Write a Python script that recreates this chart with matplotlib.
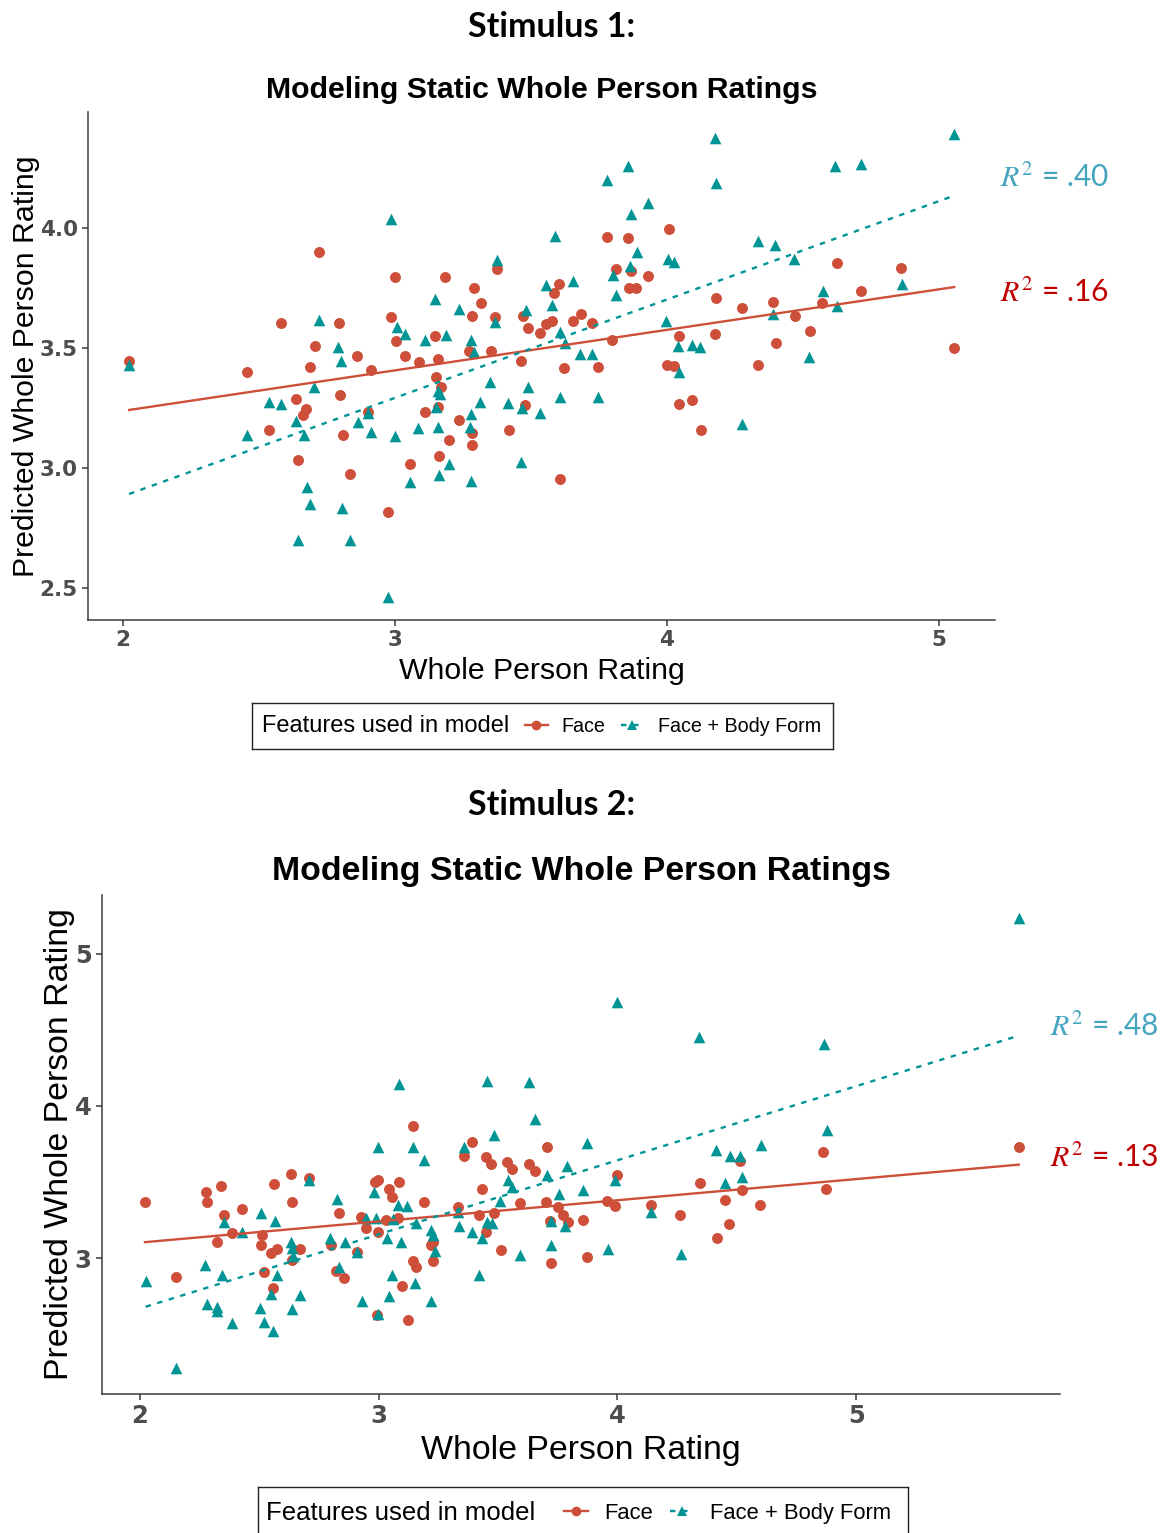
import matplotlib.pyplot as plt
from matplotlib.lines import Line2D

plt.rcParams['mathtext.fontset'] = 'stix'

RED = '#CD4F39'
TEAL = '#009494'
R2_TEAL = '#45A5BE'
R2_RED = '#C00000'

# ---- Stimulus 1 ----
s1_face_x = [2.024, 2.721, 3.000, 3.184, 3.374, 3.291, 3.315, 3.282, 3.370, 3.472,
             3.490, 3.535, 2.583, 2.796, 2.707, 2.863, 2.986, 3.005, 3.038, 3.089,
             3.157, 3.148, 3.274, 3.352, 3.462, 2.457, 2.689, 2.913,
             2.638, 2.675, 2.661, 2.537, 2.799, 2.808, 2.901, 3.150, 3.168, 3.160,
             3.111, 3.200, 3.162, 3.056, 3.237, 3.282, 3.282, 3.420, 3.480, 2.643,
             2.836, 2.974,
             4.006, 3.780, 3.857, 4.626, 4.861, 3.812, 3.866, 3.930, 3.603, 3.585,
             3.861, 3.885, 4.712, 4.181, 4.388, 4.276, 4.569, 4.470, 3.655, 3.683,
             3.578, 3.557, 3.725, 3.798, 4.043, 4.176, 4.525, 4.400, 5.055, 3.622,
             3.747, 4.000, 4.024, 4.336,
             4.043, 4.092, 4.125, 3.606]
s1_face_y = [3.447, 3.900, 3.797, 3.797, 3.828, 3.749, 3.686, 3.635, 3.630, 3.633,
             3.582, 3.561, 3.603, 3.603, 3.508, 3.467, 3.628, 3.530, 3.467, 3.440,
             3.453, 3.550, 3.489, 3.489, 3.447, 3.400, 3.420, 3.410,
             3.288, 3.246, 3.221, 3.158, 3.304, 3.138, 3.232, 3.378, 3.336, 3.253,
             3.232, 3.117, 3.051, 3.017, 3.200, 3.147, 3.095, 3.158, 3.262, 3.033,
             2.974, 2.818,
             3.996, 3.964, 3.960, 3.853, 3.832, 3.828, 3.821, 3.801, 3.765, 3.728,
             3.749, 3.749, 3.739, 3.707, 3.692, 3.665, 3.686, 3.633, 3.614, 3.640,
             3.614, 3.599, 3.603, 3.533, 3.550, 3.557, 3.572, 3.519, 3.499, 3.415,
             3.422, 3.429, 3.425, 3.429,
             3.267, 3.283, 3.158, 2.953]

s1_body_x = [2.024, 2.986, 3.376, 3.148, 3.237, 3.368, 3.481, 3.555, 2.720, 2.793,
             2.802, 3.007, 3.038, 3.111, 3.188, 3.280, 3.292,
             2.705, 2.539, 2.582, 2.638, 2.457, 2.665, 2.864, 2.900, 2.913, 3.001,
             3.158, 3.165, 3.150, 3.087, 3.157, 3.200, 3.162, 3.056, 3.280, 3.276,
             3.280, 3.349, 3.313, 3.417, 3.488, 3.469, 3.535, 3.463, 2.677, 2.687,
             2.806, 2.644, 2.834, 2.974,
             4.175, 5.055, 3.857, 3.781, 4.181, 4.618, 4.712, 3.930, 3.869, 3.588,
             3.888, 4.336, 4.398, 4.468, 4.003, 4.024, 3.863, 3.800, 3.655, 3.814,
             4.862, 4.572, 3.576, 4.623, 4.388, 3.606, 3.624, 3.997, 4.040, 4.092,
             4.123, 3.679, 3.725, 4.523,
             4.044, 4.274, 3.606, 3.747]
s1_body_y = [3.430, 4.036, 3.867, 3.704, 3.663, 3.610, 3.658, 3.762, 3.617, 3.505,
             3.447, 3.586, 3.558, 3.533, 3.554, 3.533, 3.485,
             3.339, 3.276, 3.267, 3.197, 3.138, 3.138, 3.190, 3.228, 3.151, 3.135,
             3.320, 3.310, 3.255, 3.165, 3.169, 3.015, 2.971, 2.940, 3.225, 3.172,
             2.947, 3.360, 3.276, 3.272, 3.339, 3.249, 3.228, 3.026, 2.922, 2.849,
             2.835, 2.700, 2.700, 2.464,
             4.374, 4.392, 4.256, 4.200, 4.189, 4.256, 4.267, 4.103, 4.057, 3.968,
             3.901, 3.947, 3.929, 3.871, 3.869, 3.860, 3.843, 3.804, 3.779, 3.721,
             3.767, 3.737, 3.679, 3.675, 3.642, 3.565, 3.519, 3.614, 3.508, 3.513,
             3.503, 3.475, 3.475, 3.464,
             3.401, 3.182, 3.297, 3.297]

# fitted lines: (intercept, slope)
s1_face_fit = (2.900, 0.1689)
s1_body_fit = (2.062, 0.410)
s1_r2 = ['.16', '.40']

# ---- Stimulus 2 ----
s2_face_x = [3.145, 2.633, 2.710, 2.275, 2.339, 2.279, 2.561, 2.638, 2.021, 2.429,
             2.352, 2.834, 2.985, 2.998, 3.043, 3.054, 3.085, 3.191, 2.926, 2.945,
             3.030, 3.080, 2.996, 3.228, 3.145, 3.156, 3.228, 3.099, 3.121, 2.991,
             2.799, 2.908, 2.821, 2.856, 2.670, 2.638, 2.510, 2.506, 2.548, 2.575,
             2.387, 2.321, 2.151, 2.521, 2.556, 3.219,
             4.862, 5.681, 3.392, 3.358, 3.705, 3.450, 3.469, 3.539, 3.558, 3.631,
             3.654, 4.515, 3.999, 3.432, 4.344, 4.523, 4.874, 3.592, 3.700, 3.332,
             3.422, 3.481, 3.751, 3.956, 3.988, 4.139, 4.452, 4.597, 4.262, 4.469,
             4.416, 3.771, 3.792, 3.857, 3.716, 3.450, 3.511, 3.722, 3.874]
s2_face_y = [3.870, 3.556, 3.530, 3.437, 3.474, 3.372, 3.485, 3.372, 3.372, 3.326,
             3.285, 3.300, 3.500, 3.511, 3.452, 3.402, 3.502, 3.372, 3.274, 3.200,
             3.250, 3.267, 3.174, 3.108, 2.985, 2.940, 2.980, 2.815, 2.593, 2.626,
             3.086, 3.039, 2.914, 2.869, 3.061, 2.989, 3.154, 3.089, 3.035, 3.061,
             3.163, 3.108, 2.875, 2.908, 2.806, 3.090,
             3.695, 3.731, 3.761, 3.674, 3.731, 3.663, 3.620, 3.630, 3.583, 3.620,
             3.576, 3.637, 3.550, 3.457, 3.491, 3.446, 3.457, 3.365, 3.372, 3.339,
             3.283, 3.300, 3.339, 3.376, 3.343, 3.350, 3.383, 3.348, 3.283, 3.228,
             3.132, 3.283, 3.239, 3.252, 3.248, 3.170, 3.054, 2.969, 3.006]

s2_body_x = [3.085, 2.996, 3.145, 3.190, 2.708, 2.352, 2.507, 2.566, 2.824, 2.982,
             3.080, 3.119, 2.947, 2.989, 3.058, 3.155, 3.036, 3.093, 3.219, 3.226,
             3.235, 3.152, 3.219, 3.054, 3.043, 2.929, 2.996, 2.859, 2.796, 2.908,
             2.835, 2.633, 2.638, 2.640, 2.429, 2.272, 2.345, 2.024, 2.573, 2.548,
             2.670, 2.279, 2.321, 2.324, 2.503, 2.636, 2.387, 2.521, 2.558, 2.153,
             5.681, 3.997, 4.343, 4.866, 3.455, 3.631, 3.654, 3.481, 4.876, 3.874,
             3.358, 4.412, 4.472, 4.515, 4.601, 3.790, 3.703, 3.990, 3.542, 3.559,
             4.520, 4.452, 3.855, 3.754, 3.510, 3.332, 4.142, 3.720, 3.780, 3.455,
             3.474, 3.390, 3.336, 3.432, 3.590, 3.720, 3.960, 4.265, 3.420]
s2_body_y = [4.142, 3.728, 3.728, 3.648, 3.517, 3.241, 3.295, 3.245, 3.387, 3.435,
             3.348, 3.343, 3.267, 3.267, 3.260, 3.230, 3.132, 3.104, 3.185, 3.154,
             3.050, 2.839, 2.719, 2.887, 2.750, 2.717, 2.635, 3.104, 3.136, 3.039,
             2.940, 3.104, 3.067, 3.013, 3.174, 2.957, 2.890, 2.849, 2.893, 2.767,
             2.756, 2.702, 2.680, 2.651, 2.673, 2.669, 2.576, 2.583, 2.524, 2.278,
             5.231, 4.680, 4.452, 4.404, 4.165, 4.159, 3.917, 3.811, 3.839, 3.757,
             3.731, 3.713, 3.674, 3.669, 3.741, 3.609, 3.546, 3.513, 3.517, 3.470,
             3.535, 3.496, 3.446, 3.420, 3.376, 3.304, 3.304, 3.245, 3.209, 3.239,
             3.230, 3.170, 3.209, 3.130, 3.022, 3.087, 3.061, 3.028, 2.887]

s2_face_fit = (2.825, 0.139)
s2_body_fit = (1.697, 0.4866)
s2_r2 = ['.13', '.48']

x_ticks = [2, 3, 4, 5]
s1_y_ticks = [2.5, 3.0, 3.5, 4.0]
s2_y_ticks = [3, 4, 5]

TITLE = 'Modeling Static Whole Person Ratings'
XLABEL = 'Whole Person Rating'
YLABEL = 'Predicted Whole Person Rating'
LEG_TITLE = 'Features used in model'
LEG_LABELS = ['Face', 'Face + Body Form']

W, H = 1160, 1533
fig = plt.figure(figsize=(W / 100, H / 100), dpi=100)


def px_axes(left, top, right, bottom):
    return fig.add_axes([left / W, 1 - bottom / H, (right - left) / W, (bottom - top) / H])


BODY_DASH = (0, (2.3, 2.8))


def panel(ax, fx, fy, bx, by, ffit, bfit, yticks, ylabels, xlim, ylim, fs, tick_fs):
    ax.scatter(fx, fy, s=62, marker='o', color=RED, linewidths=0, zorder=3)
    ax.scatter(bx, by, s=70, marker='^', color=TEAL, linewidths=0, zorder=3)
    for xs, fit, col, ls in [(fx, ffit, RED, '-'), (bx, bfit, TEAL, BODY_DASH)]:
        x0, x1 = min(xs), max(xs)
        ax.plot([x0, x1], [fit[0] + fit[1] * x0, fit[0] + fit[1] * x1],
                color=col, lw=1.7, linestyle=ls, zorder=4)
    ax.set_xlim(*xlim)
    ax.set_ylim(*ylim)
    ax.set_xticks(x_ticks)
    ax.set_yticks(yticks)
    ax.set_yticklabels(ylabels)
    for sp in ['top', 'right']:
        ax.spines[sp].set_visible(False)
    for sp in ['left', 'bottom']:
        ax.spines[sp].set_color('#3A3A3A')
        ax.spines[sp].set_linewidth(1.1)
    ax.tick_params(direction='out', length=4, width=1.1, color='#3A3A3A',
                   labelcolor='#4D4D4D', pad=3.5)
    for lab in ax.get_xticklabels() + ax.get_yticklabels():
        lab.set_fontfamily('DejaVu Sans')
        lab.set_fontweight('bold')
        lab.set_fontsize(tick_fs)
    ax.set_title(TITLE, fontsize=fs, fontweight='bold', family='Liberation Sans', pad=fs * 0.45)
    ax.set_xlabel(XLABEL, fontsize=fs, family='Liberation Sans')
    ax.set_ylabel(YLABEL, fontsize=fs, family='Liberation Sans')


def r2_labels(ax, x, y_face, y_body, r2, fs):
    ax.text(x, y_body, r'$R^2$ = ' + r2[1], color=R2_TEAL, fontsize=fs, family='Lato',
            va='center', ha='left', clip_on=False)
    ax.text(x, y_face, r'$R^2$ = ' + r2[0], color=R2_RED, fontsize=fs, family='Lato',
            va='center', ha='left', clip_on=False)


def legend_box(box, text_dx, handles_x, fs, label_fs, hl, htp, cs):
    lax = px_axes(*box)
    lax.set_xticks([])
    lax.set_yticks([])
    for sp in lax.spines.values():
        sp.set_color('#222222')
        sp.set_linewidth(1.0)
    width = box[2] - box[0]
    lax.text(text_dx / width, 0.5, LEG_TITLE, transform=lax.transAxes, va='center',
             ha='left', fontsize=fs, family='Liberation Sans')
    handles = [Line2D([], [], color=RED, lw=1.7, marker='o', markersize=7, markeredgewidth=0),
               Line2D([], [], color=TEAL, lw=1.7, linestyle=BODY_DASH, marker='^',
                      markersize=7.5, markeredgewidth=0)]
    lax.legend(handles, LEG_LABELS, loc='center left', bbox_to_anchor=(handles_x / width, 0.5),
               ncol=2, frameon=False, borderpad=0, borderaxespad=0, handlelength=hl,
               handletextpad=htp, columnspacing=cs,
               prop={'family': 'Liberation Sans', 'size': label_fs})


# top panel
ax1 = px_axes(88, 112, 995, 620)
panel(ax1, s1_face_x, s1_face_y, s1_body_x, s1_body_y, s1_face_fit, s1_body_fit,
      s1_y_ticks, ['2.5', '3.0', '3.5', '4.0'], (1.873, 5.205), (2.367, 4.483), 21.8, 15.5)
ax1.xaxis.set_label_coords(0.5, -0.073)
ax1.yaxis.set_label_coords(-0.053, 0.5)
r2_labels(ax1, 5.225, 3.729, 4.208, s1_r2, 21.5)
legend_box((252, 703, 833, 749), 10, 273, 17, 14.2, 1.15, 0.7, 0.8)
fig.text(552 / W, 1 - 27 / H, 'Stimulus 1:', ha='center', va='center', fontsize=24.5,
         fontweight='bold', family='Lato')

# bottom panel
ax2 = px_axes(102, 895, 1060, 1394)
panel(ax2, s2_face_x, s2_face_y, s2_body_x, s2_body_y, s2_face_fit, s2_body_fit,
      s2_y_ticks, ['3', '4', '5'], (1.841, 5.854), (2.109, 5.385), 24.4, 17.5)
ax2.xaxis.set_label_coords(0.5, -0.082)
ax2.yaxis.set_label_coords(-0.028, 0.5)
r2_labels(ax2, 5.812, 3.659, 4.519, s2_r2, 21.5)
legend_box((258, 1487, 908, 1540), 8, 306, 18.5, 15.8, 1.1, 0.75, 0.75)
fig.text(552 / W, 1 - 805 / H, 'Stimulus 2:', ha='center', va='center', fontsize=24.5,
         fontweight='bold', family='Lato')

fig.savefig('out.png', dpi=100)
